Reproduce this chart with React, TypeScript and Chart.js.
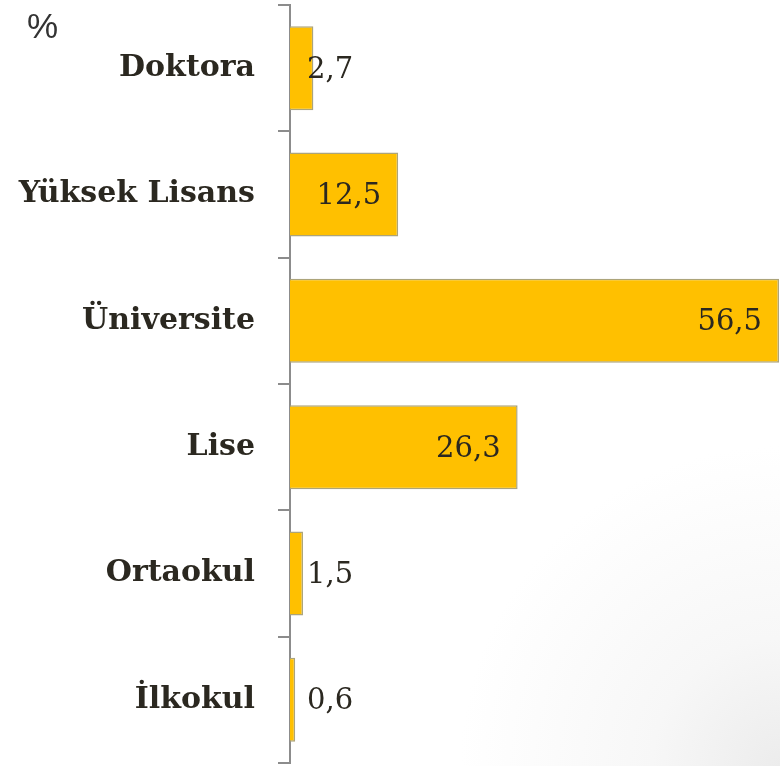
import React, { useEffect, useRef } from "react";
import { Chart, registerables } from "chart.js";

Chart.register(...registerables);

const categories = ["Doktora", "Yüksek Lisans", "Üniversite", "Lise", "Ortaokul", "İlkokul"];
const values = [2.7, 12.5, 56.5, 26.3, 1.5, 0.6];
const unitLabel = "%";
const xMin = 0;
const xMax = 56.5;

const fmt = (v: number) => v.toFixed(1).replace(".", ",");

const valueLabelPlugin = {
  id: "valueLabels",
  afterDatasetsDraw(chart: any) {
    const ctx = chart.ctx;
    const meta = chart.getDatasetMeta(0);
    const base = chart.scales.x.getPixelForValue(0);
    ctx.save();
    ctx.font = '29px "DejaVu Serif"';
    ctx.fillStyle = "#2b2820";
    ctx.textBaseline = "middle";
    ctx.textAlign = "left";
    meta.data.forEach((bar: any, i: number) => {
      const text = fmt(values[i]);
      const w = ctx.measureText(text).width;
      let x = bar.x - 17 - w;
      if (x < base + 17) x = base + 17;
      ctx.fillText(text, x, bar.y + 2);
    });
    ctx.font = '35px "Liberation Sans"';
    ctx.fillStyle = "#333333";
    ctx.textBaseline = "alphabetic";
    ctx.fillText(unitLabel, 27, 38);
    ctx.restore();
  },
};

export default function App() {
  const ref = useRef<HTMLCanvasElement>(null);
  useEffect(() => {
    if (!ref.current) return;
    const chart = new Chart(ref.current, {
      type: "bar",
      data: {
        labels: categories,
        datasets: [
          {
            data: values,
            backgroundColor: "#FFC000",
            borderColor: "#aca47a",
            borderWidth: 1.5,
            barPercentage: 0.665,
            categoryPercentage: 1,
          },
        ],
      },
      options: {
        indexAxis: "y",
        animation: false,
        responsive: false,
        layout: { padding: { top: 5, right: 1, bottom: 3, left: 0 } },
        plugins: { legend: { display: false }, tooltip: { enabled: false } },
        scales: {
          x: { display: false, min: xMin, max: xMax },
          y: {
            grid: {
              drawOnChartArea: false,
              drawTicks: true,
              tickLength: 12,
              color: "#8c8c8c",
              lineWidth: 2,
            },
            border: { display: true, color: "#8c8c8c", width: 2 },
            ticks: {
              font: { family: "DejaVu Serif", weight: "bold", size: 30 },
              color: "#2b2820",
              padding: 23,
            },
            afterFit(axis: any) {
              axis.width = 290;
              axis.paddingTop = 0;
              axis.paddingBottom = 0;
            },
          },
        },
      },
      plugins: [valueLabelPlugin],
    });
    return () => chart.destroy();
  }, []);
  return (
    <div
      style={{
        position: "absolute",
        left: 0,
        top: 0,
        width: 780,
        height: 766,
        background:
          "radial-gradient(circle 320px at 100% 100%, #ececec 0%, #f7f7f7 40%, #ffffff 100%)",
      }}
    >
      <canvas ref={ref} width={780} height={766} />
    </div>
  );
}
